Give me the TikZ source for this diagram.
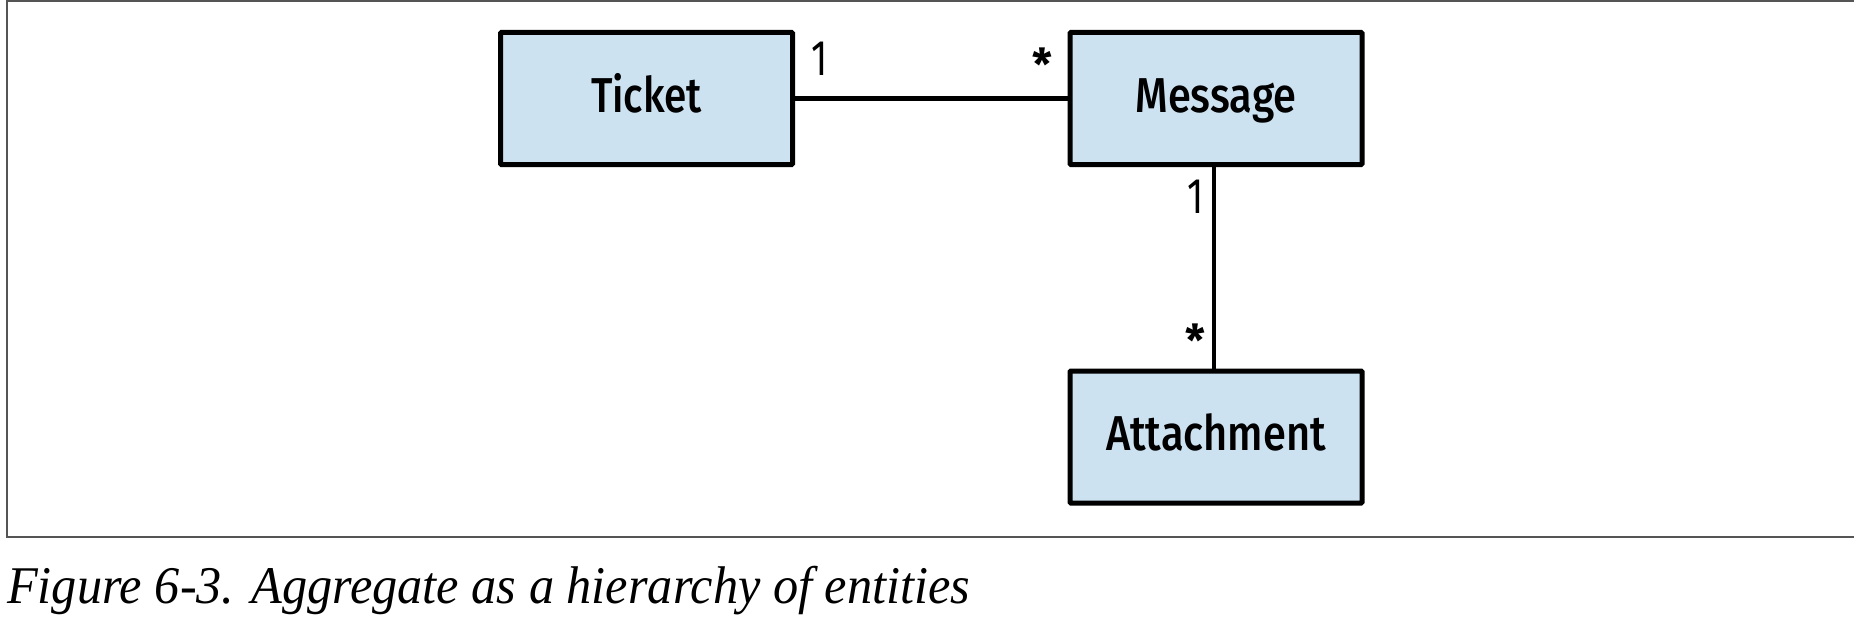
\documentclass[tikz,border=0pt]{standalone}
\usepackage{fontspec}
\usepackage{graphicx}
\setmainfont{Liberation Serif}
\newfontfamily\boxfont{Fira Sans}
\newfontfamily\boxfontmed{Fira Sans Medium}
\definecolor{boxfill}{RGB}{205,226,241}
\definecolor{framegray}{RGB}{85,85,85}
\tikzset{
  entity/.style={draw=black, line width=5pt, fill=boxfill, minimum width=292pt,
    minimum height=132pt, inner sep=0pt, rounded corners=1pt,
    text height=34pt, text depth=7pt, font=\boxfontmed\fontsize{49pt}{56pt}\selectfont},
  assoc/.style={draw=black, line width=4.5pt},
  mult/.style={inner sep=0pt, font=\boxfont\fontsize{50pt}{56pt}\selectfont},
  star/.style={inner sep=0pt, font=\boxfont\bfseries\fontsize{44pt}{50pt}\selectfont},
}
\begin{document}
\begin{tikzpicture}[x=1pt,y=-1pt]
\useasboundingbox (0,0) rectangle (1854,634);
\draw[framegray, line width=2pt] (1856,1) -- (6.5,1) -- (6.5,537) -- (1856,537);
\node[entity] (ticket) at (646.5,98.5) {\resizebox{111pt}{\height}{Ticket}};
\node[entity] (message) at (1216,98.5) {\resizebox{161pt}{\height}{Message}};
\node[entity] (attach) at (1216,437) {\resizebox{220pt}{\height}{Attachment}};
\draw[assoc] (ticket.east) -- (message.west);
\draw[assoc] ([xshift=-2pt]message.south) -- ([xshift=-2pt]attach.north);
\node[mult] (m1) at (820,59) {\scalebox{0.75}[1]{1}};
\node[star] (s1) at (1042.5,64) {*};
\node[mult] (m2) at (1195.5,197) {\scalebox{0.75}[1]{1}};
\node[star] (s2) at (1195.5,340) {*};
\node[anchor=base west, inner sep=0pt, font=\itshape\fontsize{53pt}{60pt}\selectfont] (cap) at (7,603)
  {\resizebox{963pt}{\height}{Figure 6-3. Aggregate as a hierarchy of entities}};
\end{tikzpicture}
\end{document}
